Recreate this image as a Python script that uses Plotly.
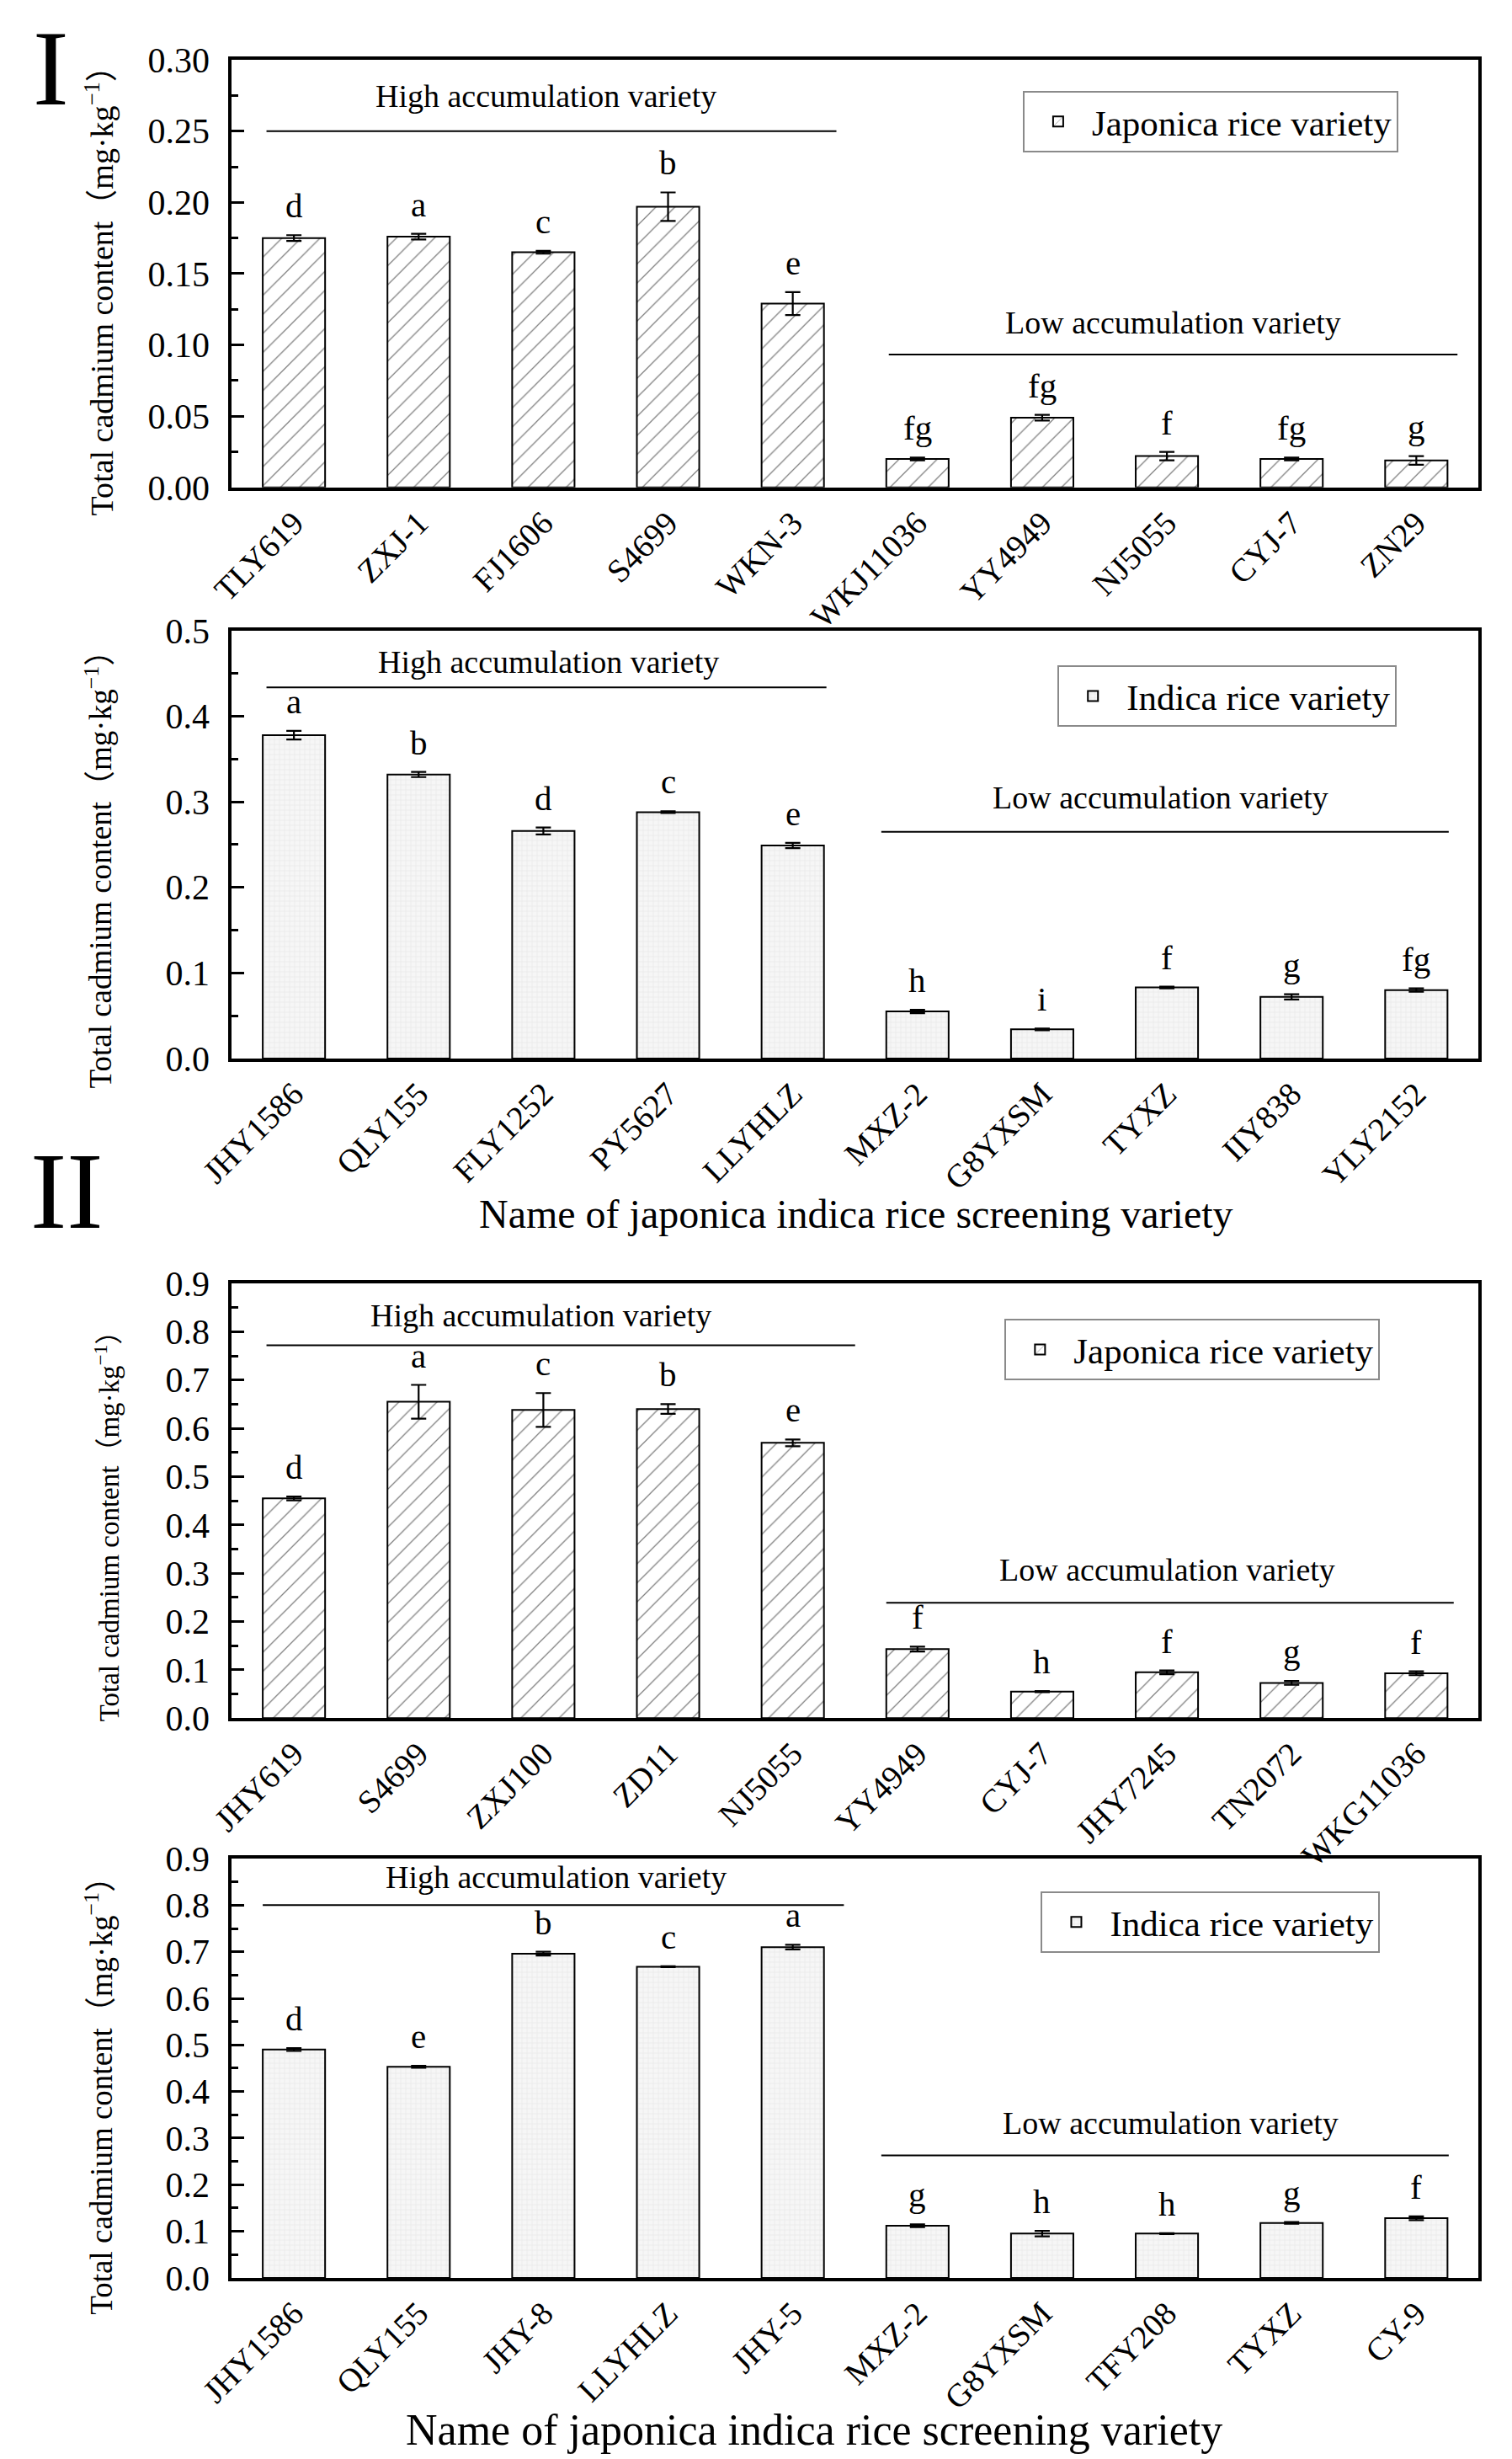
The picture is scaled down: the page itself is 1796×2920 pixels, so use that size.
import plotly.graph_objects as go

# ---------------- data ----------------
cats1 = ["TLY619", "ZXJ-1", "FJ1606", "S4699", "WKN-3", "WKJ11036", "YY4949", "NJ5055", "CYJ-7", "ZN29"]
vals1 = [0.175, 0.176, 0.165, 0.197, 0.129, 0.020, 0.049, 0.022, 0.020, 0.019]
errs1 = [0.002, 0.002, 0.001, 0.010, 0.008, 0.001, 0.002, 0.003, 0.001, 0.003]
lets1 = ["d", "a", "c", "b", "e", "fg", "fg", "f", "fg", "g"]

cats2 = ["JHY1586", "QLY155", "FLY1252", "PY5627", "LLYHLZ", "MXZ-2", "G8YXSM", "TYXZ", "IIY838", "YLY2152"]
vals2 = [0.378, 0.332, 0.266, 0.288, 0.249, 0.055, 0.034, 0.083, 0.072, 0.080]
errs2 = [0.005, 0.003, 0.004, 0.001, 0.003, 0.002, 0.001, 0.001, 0.003, 0.002]
lets2 = ["a", "b", "d", "c", "e", "h", "i", "f", "g", "fg"]

cats3 = ["JHY619", "S4699", "ZXJ100", "ZD11", "NJ5055", "YY4949", "CYJ-7", "JHY7245", "TN2072", "WKG11036"]
vals3 = [0.455, 0.655, 0.638, 0.640, 0.570, 0.143, 0.055, 0.095, 0.073, 0.093]
errs3 = [0.004, 0.035, 0.035, 0.010, 0.007, 0.005, 0.001, 0.004, 0.004, 0.004]
lets3 = ["d", "a", "c", "b", "e", "f", "h", "f", "g", "f"]

cats4 = ["JHY1586", "QLY155", "JHY-8", "LLYHLZ", "JHY-5", "MXZ-2", "G8YXSM", "TFY208", "TYXZ", "CY-9"]
vals4 = [0.490, 0.453, 0.696, 0.668, 0.710, 0.112, 0.095, 0.095, 0.118, 0.128]
errs4 = [0.003, 0.002, 0.004, 0.001, 0.005, 0.003, 0.006, 0.001, 0.002, 0.004]
lets4 = ["d", "e", "b", "c", "a", "g", "h", "h", "g", "f"]

series_names = ["Japonica rice variety", "Indica rice variety", "Japonica rice variety", "Indica rice variety"]
high_label = "High accumulation variety"
low_label = "Low accumulation variety"
y_title = "Total cadmium content（mg·kg<sup>−1</sup>）"
x_title = "Name of japonica indica rice screening variety"

# ---------------- layout settings ----------------
FONT = "Liberation Serif, Times New Roman, Noto Sans CJK SC, serif"
W, H = 1796, 2920
xdom = [0.1487, 0.9735]
ydoms = [[0.8045, 0.9784], [0.5723, 0.7462], [0.3040, 0.4808], [0.0764, 0.2469]]
ymaxs = [0.30, 0.5, 0.9, 0.9]
dticks = [0.05, 0.1, 0.1, 0.1]
fmts = [".2f", ".1f", ".1f", ".1f"]
# group line settings: (x0, x1, y_line, y_text, x_text)
high_cfg = [(-0.22, 4.35, 0.250, 0.2746, 2.02), (-0.22, 4.27, 0.434, 0.464, 2.04),
            (-0.22, 4.50, 0.772, 0.834, 1.98), (-0.25, 4.41, 0.800, 0.861, 2.10)]
low_cfg = [(4.77, 9.33, 0.0933, 0.116, 7.05), (4.71, 9.26, 0.265, 0.305, 6.95),
           (4.75, 9.30, 0.239, 0.308, 7.00), (4.71, 9.26, 0.263, 0.332, 7.03)]
legend_pos = [(0.672, 0.9658), (0.695, 0.7322), (0.660, 0.4664), (0.684, 0.2336)]
ytitle_xy = [(0.061, 0.8877), (0.061, 0.6524), (0.066, 0.385), (0.061, 0.1537)]
ytitle_size = [38, 37, 33, 37]

hatch = dict(shape="/", fgcolor="black", bgcolor="white", size=16, solidity=0.08)
dots = dict(shape="+", fgcolor="#dcdcdc", bgcolor="#f6f6f6", size=6, solidity=0.25)

panels = [(cats1, vals1, errs1, lets1), (cats2, vals2, errs2, lets2),
          (cats3, vals3, errs3, lets3), (cats4, vals4, errs4, lets4)]

fig = go.Figure()
annotations = []
shapes = []
layout_axes = {}

for i, (cats, vals, errs, lets) in enumerate(panels):
    n = i + 1
    xa = "x" if n == 1 else f"x{n}"
    ya = "y" if n == 1 else f"y{n}"
    lg = "legend" if n == 1 else f"legend{n}"
    pattern = hatch if i % 2 == 0 else dots
    fig.add_trace(go.Bar(
        x=cats, y=vals, width=0.5, name=series_names[i],
        xaxis=xa, yaxis=ya, legend=lg, showlegend=True,
        marker=dict(color="white", line=dict(color="black", width=2), pattern=pattern),
        error_y=dict(type="data", array=errs, color="black", thickness=2.2, width=9),
    ))
    for c, v, e, t in zip(cats, vals, errs, lets):
        annotations.append(dict(x=c, y=v + e, xref=xa, yref=ya, text=t, showarrow=False,
                                xanchor="center", yanchor="bottom", yshift=10,
                                font=dict(size=41, family=FONT, color="black")))
    for cfg, lab in ((high_cfg[i], high_label), (low_cfg[i], low_label)):
        x0, x1, yl, yt, xt = cfg
        shapes.append(dict(type="line", xref=xa, yref=ya, x0=x0, x1=x1, y0=yl, y1=yl,
                           line=dict(color="black", width=2)))
        annotations.append(dict(x=xt, y=yt, xref=xa, yref=ya, text=lab, showarrow=False,
                                xanchor="center", yanchor="middle",
                                font=dict(size=38, family=FONT, color="black")))
    # y title
    annotations.append(dict(x=ytitle_xy[i][0], y=ytitle_xy[i][1], xref="paper", yref="paper",
                            text=y_title, textangle=-90, showarrow=False,
                            xanchor="center", yanchor="middle",
                            font=dict(size=ytitle_size[i], family=FONT, color="black")))
    axkey = "xaxis" if n == 1 else f"xaxis{n}"
    aykey = "yaxis" if n == 1 else f"yaxis{n}"
    layout_axes[axkey] = dict(domain=xdom, anchor=ya, type="category", range=[-0.5, 9.5],
                              automargin=False,
                              showline=True, mirror=True, linecolor="black", linewidth=3.5,
                              ticks="", tickangle=-45, showgrid=False, zeroline=False,
                              tickfont=dict(size=39, family=FONT, color="black"))
    layout_axes[aykey] = dict(domain=ydoms[i], anchor=xa, range=[0, ymaxs[i]],
                              automargin=False,
                              dtick=dticks[i], tick0=0, tickformat=fmts[i],
                              showline=True, mirror=True, linecolor="black", linewidth=3.5,
                              ticks="inside", ticklen=15, tickwidth=3, tickcolor="black",
                              minor=dict(ticks="inside", ticklen=8, tickwidth=2.5, tickcolor="black",
                                         dtick=dticks[i] / 2, tick0=0, showgrid=False),
                              showgrid=False, zeroline=False, ticklabelstandoff=14,
                              tickfont=dict(size=42, family=FONT, color="black"))
    legdict = dict(x=legend_pos[i][0], y=legend_pos[i][1], xanchor="left", yanchor="top",
                   xref="paper", yref="paper", itemwidth=70,
                   bgcolor="white", bordercolor="#8a8a8a", borderwidth=2,
                   font=dict(size=43, family=FONT, color="black"))
    layout_axes[lg] = legdict

# x titles and roman numerals
annotations.append(dict(x=0.562, y=0.509, xref="paper", yref="paper", text=x_title, showarrow=False,
                        xanchor="center", yanchor="middle",
                        font=dict(size=48, family=FONT, color="black")))
annotations.append(dict(x=0.534, y=0.0145, xref="paper", yref="paper", text=x_title, showarrow=False,
                        xanchor="center", yanchor="middle",
                        font=dict(size=52, family=FONT, color="black")))
annotations.append(dict(x=0.0295, y=1.0, xref="paper", yref="paper", text="I", showarrow=False,
                        xanchor="center", yanchor="top",
                        font=dict(size=128, family=FONT, color="black")))
annotations.append(dict(x=0.040, y=0.5185, xref="paper", yref="paper", text="II", showarrow=False,
                        xanchor="center", yanchor="middle",
                        font=dict(size=130, family=FONT, color="black")))

fig.update_layout(width=W, height=H, autosize=False,
                  margin=dict(l=0, r=0, t=0, b=0, pad=0, autoexpand=False),
                  paper_bgcolor="white", plot_bgcolor="white",
                  font=dict(family=FONT, color="black"),
                  annotations=annotations, shapes=shapes, bargap=0.5, **layout_axes)

fig.write_html("out.html")
